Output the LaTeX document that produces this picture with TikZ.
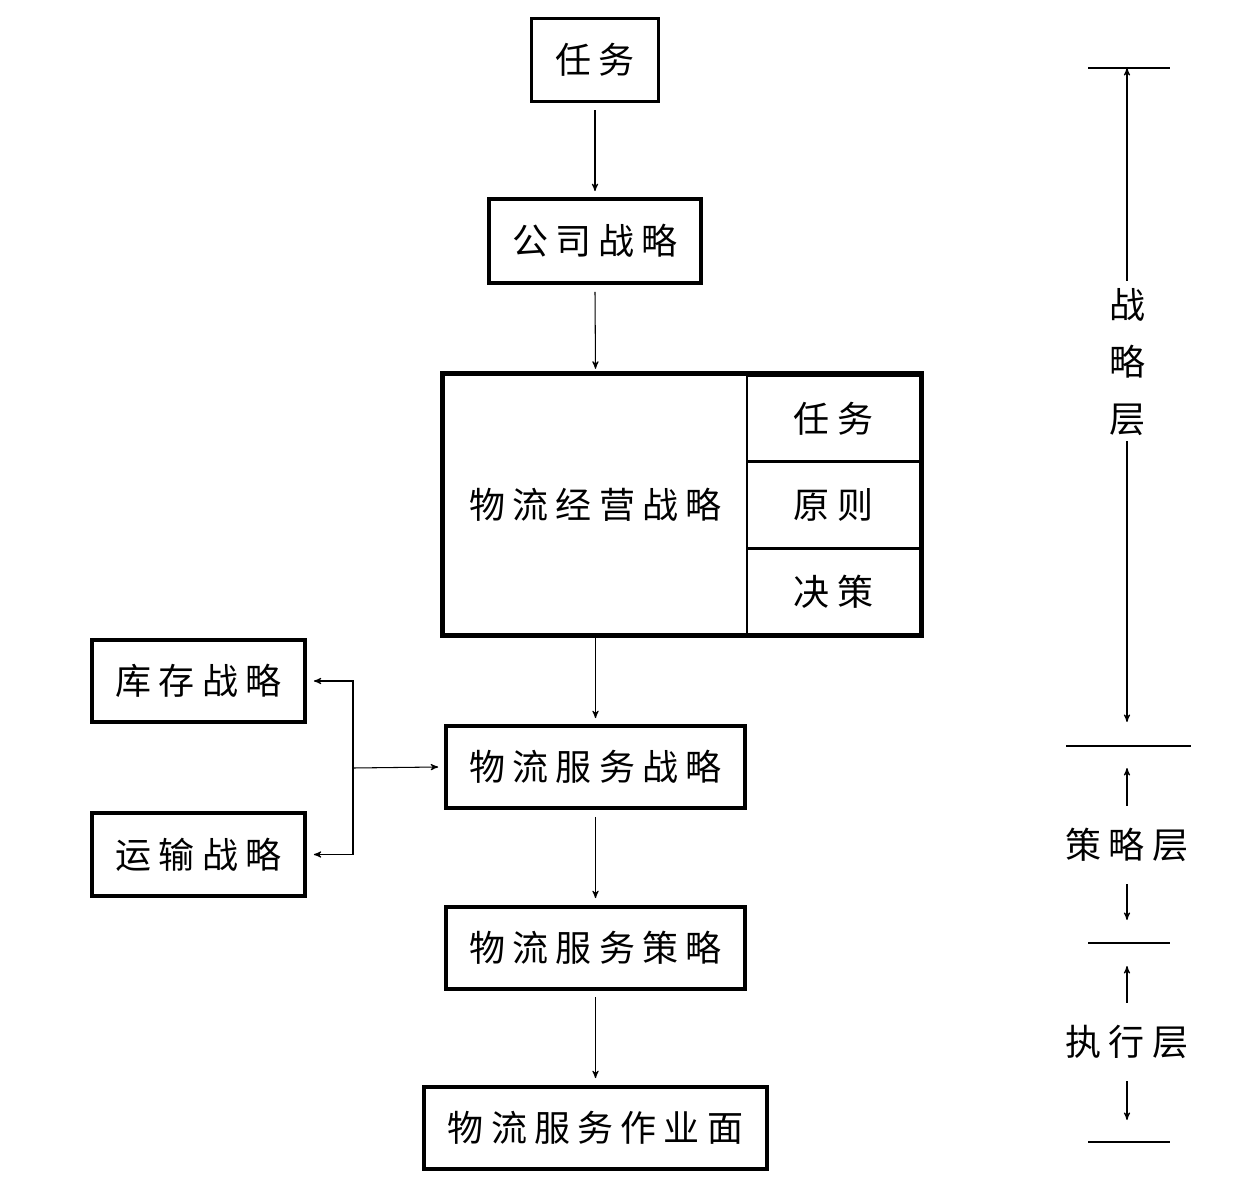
\documentclass[tikz,border=0pt]{standalone}
\usepackage{fontspec}
\setmainfont{Noto Sans CJK SC}[LetterSpace=20]
\usetikzlibrary{arrows}
\tikzset{
  blk/.style = {draw=black, line width=2.1pt, align=center, inner sep=0pt,
    font=\fontsize{20.5}{24}\selectfont},
  blk_s/.style = {blk, minimum width=5.98cm, minimum height=1.64cm},% strategy box
  blk_c/.style = {blk, line width=1.4pt, minimum width=3.46cm,
    minimum height=1.727cm},% cell in the big box
  lvl/.style = {align=center, inner sep=0pt, font=\fontsize{20.5}{32.5}\selectfont},
  bar/.style = {line width=1.6pt},
}

\begin{document}
\begin{tikzpicture}[x=0.02cm,y=-0.02cm,->,>=stealth',line width=0.6pt]
\useasboundingbox (0,0) rectangle (1248,1182);
% main column
\node [blk, minimum width=2.54cm, minimum height=1.66cm] (rw) at (595,60) {任务};
\node [blk, minimum width=4.24cm, minimum height=1.68cm] (gs) at (595,241) {公司战略};
\node [blk, line width=1.4pt, minimum width=6.06cm, minimum height=5.18cm]
  (jy) at (595.5,504.5) {物流经营战略};
\node [blk_c] (jy_rw) at (833.5,418.5) {任务};
\node [blk_c] (jy_yz) at (833.5,505) {原则};
\node [blk_c] (jy_jc) at (833.5,591.5) {决策};
\draw [-, line width=2.8pt] (jy.north west) rectangle (jy_jc.south east);
\node [blk_s] (fz) at (595.5,767) {物流服务战略};
\node [blk_s] (fc) at (595.5,948) {物流服务策略};
\node [blk, minimum width=6.86cm, minimum height=1.64cm] (zy) at (595.5,1128) {物流服务作业面};
% left side
\node [blk, minimum width=4.26cm, minimum height=1.64cm] (kc) at (198.5,681) {库存战略};
\node [blk, minimum width=4.26cm, minimum height=1.66cm] (ys) at (198.5,854.5) {运输战略};

\draw ([yshift=-0.14cm]rw.south) -- ([yshift=0.12cm]gs.north);
\draw ([yshift=-0.14cm]gs.south) -- ([yshift=0.1cm]jy.north);
\draw ([yshift=-0.04cm]jy.south) -- ([yshift=0.12cm]fz.north);
\draw ([yshift=-0.14cm]fz.south) -- ([yshift=0.14cm]fc.north);
\draw ([yshift=-0.12cm]fc.south) -- ([yshift=0.14cm]zy.north);

\coordinate (br) at (353,768);
\draw (br) -- ([xshift=-0.12cm]fz.west);
\draw (br) |- ([xshift=0.14cm]kc.east);
\draw (br) |- ([xshift=0.14cm]ys.east);

% levels on the right
\coordinate (l1a) at (1088,68);  \coordinate (l1b) at (1170,68);
\coordinate (l2a) at (1066,746); \coordinate (l2b) at (1191,746);
\coordinate (l3a) at (1088,943); \coordinate (l3b) at (1170,943);
\coordinate (l4a) at (1088,1142);\coordinate (l4b) at (1170,1142);
\draw [-, bar] (l1a) -- (l1b);
\draw [-, bar] (l2a) -- (l2b);
\draw [-, bar] (l3a) -- (l3b);
\draw [-, bar] (l4a) -- (l4b);

\node [lvl] (zl) at (1127,362) {战\\略\\层};
\node [lvl] (cl) at (1127,845) {策略层};
\node [lvl] (zx) at (1127,1042) {执行层};

\draw ([yshift=0.14cm]zl.north) -- (1127,68);
\draw ([yshift=-0.1cm]zl.south) -- (1127,722);
\draw ([yshift=0.44cm]cl.north) -- (1127,768);
\draw ([yshift=-0.44cm]cl.south) -- (1127,920);
\draw ([yshift=0.44cm]zx.north) -- (1127,966);
\draw ([yshift=-0.44cm]zx.south) -- (1127,1120);
\end{tikzpicture}
\end{document}
